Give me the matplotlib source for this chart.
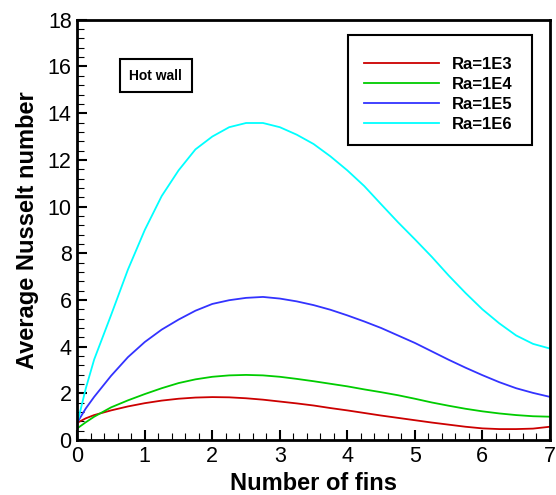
import matplotlib
matplotlib.use('Agg')
import matplotlib.pyplot as plt
from matplotlib.patches import Rectangle
from matplotlib.ticker import MultipleLocator

plt.rcParams['font.family'] = ['Liberation Sans', 'DejaVu Sans']

# ── Data ────────────────────────────────────────────────────────────────
fins = [0, 0.125, 0.25, 0.5, 0.75, 1.0, 1.25, 1.5, 1.75, 2.0, 2.25, 2.5,
        2.75, 3.0, 3.25, 3.5, 3.75, 4.0, 4.25, 4.5, 4.75, 5.0, 5.25, 5.5,
        5.75, 6.0, 6.25, 6.5, 6.75, 7.0]

nu_ra1e3 = [0.74, 0.93, 1.07, 1.27, 1.44, 1.58, 1.69, 1.77, 1.82, 1.84, 1.83,
            1.79, 1.73, 1.65, 1.57, 1.48, 1.37, 1.27, 1.16, 1.05, 0.95, 0.85,
            0.75, 0.66, 0.57, 0.50, 0.47, 0.47, 0.49, 0.57]
nu_ra1e4 = [0.50, 0.76, 1.00, 1.40, 1.70, 1.97, 2.22, 2.44, 2.60, 2.71, 2.77,
            2.79, 2.77, 2.71, 2.62, 2.52, 2.41, 2.30, 2.17, 2.05, 1.92, 1.77,
            1.61, 1.47, 1.34, 1.23, 1.14, 1.07, 1.02, 1.00]
nu_ra1e5 = [0.75, 1.35, 1.85, 2.75, 3.55, 4.20, 4.73, 5.16, 5.54, 5.83, 5.99,
            6.09, 6.13, 6.06, 5.94, 5.78, 5.58, 5.34, 5.08, 4.80, 4.48, 4.16,
            3.80, 3.44, 3.10, 2.78, 2.48, 2.22, 2.02, 1.85]
nu_ra1e6 = [0.72, 2.20, 3.45, 5.35, 7.30, 9.00, 10.45, 11.55, 12.45, 13.00,
            13.40, 13.58, 13.58, 13.40, 13.08, 12.68, 12.15, 11.55, 10.88,
            10.10, 9.33, 8.60, 7.85, 7.05, 6.30, 5.60, 5.00, 4.48, 4.12, 3.92]

series = [
    ('Ra=1E3', nu_ra1e3, '#cc0000'),
    ('Ra=1E4', nu_ra1e4, '#00cc00'),
    ('Ra=1E5', nu_ra1e5, '#3333ff'),
    ('Ra=1E6', nu_ra1e6, '#00ffff'),
]

fig = plt.figure(figsize=(5.56, 4.95), dpi=100)
ax = fig.add_axes([0.139, 0.111, 0.850, 0.849])

for label, vals, color in series:
    ax.plot(fins, vals, color=color, lw=1.3, label=label)

ax.set_xlim(0, 7)
ax.set_ylim(0, 18)
ax.xaxis.set_major_locator(MultipleLocator(1))
ax.xaxis.set_minor_locator(MultipleLocator(0.2))
ax.yaxis.set_major_locator(MultipleLocator(2))
ax.yaxis.set_minor_locator(MultipleLocator(0.4))
ax.tick_params(which='both', direction='in', top=False, right=False,
               labelsize=15.5)
ax.tick_params(which='major', length=7.5, width=1.5, pad=4)
ax.tick_params(which='minor', length=5, width=0.8)
for sp in ax.spines.values():
    sp.set_linewidth(2)

ax.set_xlabel('Number of fins', fontsize=17, fontweight='bold', labelpad=4)
ax.set_ylabel('Average Nusselt number', fontsize=17, fontweight='bold',
              labelpad=6)

# legend box
ax.add_patch(Rectangle((0.572, 0.702), 0.39, 0.262, transform=ax.transAxes,
                       fill=False, lw=1.5, ec='black', zorder=5))
ax.legend(loc='upper left', bbox_to_anchor=(0.606, 0.911), frameon=False,
          prop={'weight': 'bold', 'size': 12},
          handlelength=4.5, handletextpad=0.8, labelspacing=0.3,
          borderaxespad=0, borderpad=0)

ax.text(0.166, 0.867, 'Hot wall', transform=ax.transAxes, fontsize=10,
        fontweight='bold', ha='center', va='center',
        bbox=dict(boxstyle='square,pad=0.7', fc='white', ec='black', lw=1.5))

fig.savefig('out.png', dpi=100)
